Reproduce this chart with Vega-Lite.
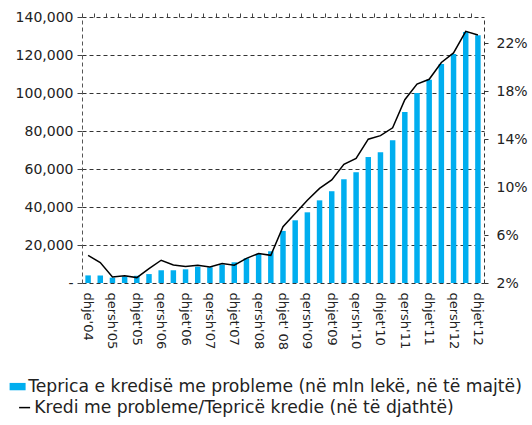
{
  "$schema": "https://vega.github.io/schema/vega-lite/v6.json",
  "autosize": {"type": "none"},
  "width": 402,
  "height": 266,
  "padding": {"left": 82, "top": 17, "right": 48, "bottom": 142},
  "background": "white",
  "config": {
    "view": {"stroke": null},
    "font": "DejaVu Sans",
    "axis": {"labelFont": "DejaVu Sans", "labelColor": "#222"}
  },
  "data": {
    "values": [
      {"q": "dhje'04", "npl": 4000, "ratio": 4.3},
      {"q": "mars'05", "npl": 4000, "ratio": 3.7},
      {"q": "qersh'05", "npl": 2800, "ratio": 2.5},
      {"q": "shtat'05", "npl": 3500, "ratio": 2.6},
      {"q": "dhjet'05", "npl": 3800, "ratio": 2.45},
      {"q": "mars'06", "npl": 4700, "ratio": 3.2},
      {"q": "qersh'06", "npl": 6700, "ratio": 3.9},
      {"q": "shtat'06", "npl": 6700, "ratio": 3.5},
      {"q": "dhjet'06", "npl": 7200, "ratio": 3.37},
      {"q": "mars'07", "npl": 8600, "ratio": 3.48},
      {"q": "qersh'07", "npl": 8300, "ratio": 3.34},
      {"q": "shtat'07", "npl": 9700, "ratio": 3.62},
      {"q": "dhjet'07", "npl": 10900, "ratio": 3.48},
      {"q": "mars'08", "npl": 13000, "ratio": 4.06},
      {"q": "qersh'08", "npl": 15400, "ratio": 4.46},
      {"q": "shtat'08", "npl": 16700, "ratio": 4.31},
      {"q": "dhjet' 08", "npl": 27400, "ratio": 6.7},
      {"q": "mars'09", "npl": 33000, "ratio": 7.8},
      {"q": "qersh'09", "npl": 37200, "ratio": 8.9},
      {"q": "shtat'09", "npl": 43500, "ratio": 9.9},
      {"q": "dhjet'09", "npl": 48300, "ratio": 10.6},
      {"q": "mars'10", "npl": 54600, "ratio": 11.9},
      {"q": "qersh'10", "npl": 58300, "ratio": 12.4},
      {"q": "shtat'10", "npl": 66300, "ratio": 14.0},
      {"q": "dhjet'10", "npl": 68800, "ratio": 14.3},
      {"q": "mars'11", "npl": 75100, "ratio": 14.95},
      {"q": "qersh'11", "npl": 90000, "ratio": 17.3},
      {"q": "shtat'11", "npl": 100000, "ratio": 18.6},
      {"q": "dhjet'11", "npl": 107000, "ratio": 19.0},
      {"q": "mars'12", "npl": 115300, "ratio": 20.4},
      {"q": "qersh'12", "npl": 120500, "ratio": 21.2},
      {"q": "shtat'12", "npl": 132100, "ratio": 23.0},
      {"q": "dhjet'12", "npl": 130400, "ratio": 22.7}
    ]
  },
  "layer": [
    {
      "mark": {"type": "bar", "width": {"band": 0.45}},
      "encoding": {
        "x": {
          "field": "q", "type": "nominal", "sort": null,
          "scale": {"paddingInner": 0, "paddingOuter": 0},
          "axis": {
            "title": null, "domain": false, "ticks": false, "labelAngle": 90,
            "labelFontSize": 13, "labelPadding": 9,
            "values": ["dhje'04", "qersh'05", "dhjet'05", "qersh'06", "dhjet'06", "qersh'07", "dhjet'07", "qersh'08", "dhjet' 08", "qersh'09", "dhjet'09", "qersh'10", "dhjet'10", "qersh'11", "dhjet'11", "qersh'12", "dhjet'12"]
          }
        },
        "y": {
          "field": "npl", "type": "quantitative",
          "scale": {"domain": [0, 140000], "nice": false},
          "axis": {
            "title": null, "orient": "left",
            "values": [0, 20000, 40000, 60000, 80000, 100000, 120000, 140000],
            "labelExpr": "datum.value == 0 ? '-' : format(datum.value, ',')",
            "labelFontSize": 14, "labelPadding": 4,
            "grid": true, "gridColor": "#333", "gridOpacity": 1, "gridDash": [4, 3], "gridWidth": 1,
            "domainColor": "#555", "domainDash": [4, 3], "domainWidth": 1,
            "tickColor": "#444", "tickSize": 5
          }
        },
        "fill": {
          "datum": "Teprica e kredisë me probleme (në mln lekë, në të majtë)",
          "scale": {"range": ["#00AEEF"]},
          "legend": {
            "orient": "none", "legendX": -73, "legendY": 361, "title": null,
            "padding": 0, "symbolType": "M-1,-0.46H1V0.46H-1Z", "symbolSize": 256,
            "symbolStrokeWidth": 0, "labelFontSize": 17.2, "labelFont": "DejaVu Sans",
            "labelColor": "#222", "labelOffset": 2, "labelLimit": 600
          }
        }
      }
    },
    {
      "mark": {"type": "line", "strokeWidth": 1.5},
      "encoding": {
        "x": {
          "field": "q", "type": "nominal", "sort": null,
          "axis": {
            "title": null, "labels": false, "domain": false, "ticks": true,
            "bandPosition": 0, "tickSize": 4, "tickColor": "#444"
          }
        },
        "y": {
          "field": "ratio", "type": "quantitative",
          "scale": {"domain": [2, 24.2], "nice": false, "zero": false},
          "axis": {
            "title": null, "orient": "right",
            "values": [2, 6, 10, 14, 18, 22],
            "labelExpr": "datum.value + '%'",
            "labelFontSize": 14, "labelPadding": 8,
            "grid": false,
            "domainColor": "#333", "domainDash": [4, 3], "domainWidth": 1,
            "tickColor": "#333", "tickSize": 4
          }
        },
        "stroke": {
          "datum": "Kredi me probleme/Tepricë kredie (në të djathtë)",
          "scale": {"range": ["#000000"]},
          "legend": {
            "orient": "none", "legendX": -66, "legendY": 382, "title": null,
            "padding": 0, "symbolType": "stroke", "symbolSize": 121,
            "symbolStrokeWidth": 1.5, "symbolStrokeColor": "#000000",
            "labelFontSize": 17.2, "labelFont": "DejaVu Sans",
            "labelColor": "#222", "labelOffset": 1, "labelLimit": 600
          }
        }
      }
    }
  ],
  "resolve": {"scale": {"y": "independent"}, "axis": {"x": "independent"}}
}
